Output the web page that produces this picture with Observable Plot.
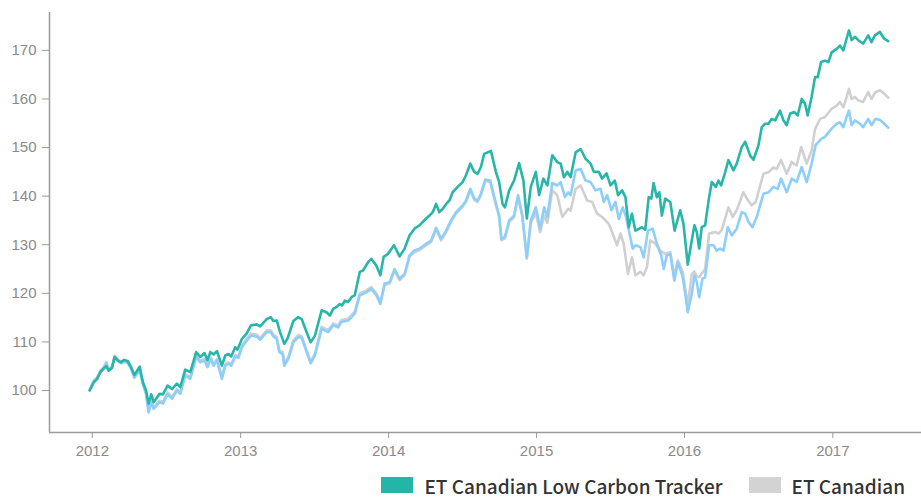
<!DOCTYPE html>
<html><head><meta charset="utf-8">
<script src="https://cdn.jsdelivr.net/npm/d3@7"></script>
<script src="https://cdn.jsdelivr.net/npm/@observablehq/plot@0.6"></script>
<style>
body{margin:0;background:#fff;overflow:hidden}
#chart svg{display:block}
#legend{box-sizing:border-box;display:flex;justify-content:flex-end;align-items:center;height:29px;padding-top:5px;padding-right:16px;line-height:1;font-family:"Noto Sans CJK SC","Noto Sans",sans-serif;font-size:19px;font-weight:500;color:#333}
.item{display:flex;align-items:center;margin-left:26px}
.sw{width:32px;height:16px;margin-right:11px}
</style></head><body><div id="chart"></div><div id="legend"></div>
<script>
// [decimal year, index value]
const lowCarbon = [[2011.982,100],[2012.009,101.7],[2012.032,102.4],[2012.054,103.8],[2012.076,104.5],[2012.094,105],[2012.110,104.1],[2012.133,104.7],[2012.150,106.9],[2012.170,106.2],[2012.193,105.8],[2012.215,106.3],[2012.240,106],[2012.261,104.8],[2012.283,103.2],[2012.319,104.9],[2012.341,101.7],[2012.362,100],[2012.379,97.3],[2012.397,99.2],[2012.413,97.6],[2012.453,99.3],[2012.476,99.2],[2012.507,101],[2012.537,100.3],[2012.570,101.4],[2012.593,100.7],[2012.626,104.3],[2012.660,103.8],[2012.700,107.9],[2012.727,106.9],[2012.756,107.7],[2012.776,106.2],[2012.795,107.9],[2012.817,107.4],[2012.840,108.1],[2012.873,105.1],[2012.896,107.2],[2012.918,107.5],[2012.936,107],[2012.963,108.9],[2012.978,108.4],[2013.008,110.6],[2013.042,111.8],[2013.069,113.4],[2013.109,113.6],[2013.131,113.2],[2013.176,114.7],[2013.203,115.1],[2013.221,114.3],[2013.244,114.4],[2013.266,112],[2013.295,109.6],[2013.318,110.8],[2013.356,114.3],[2013.389,115.1],[2013.412,114.7],[2013.446,112],[2013.473,109.9],[2013.502,111.3],[2013.547,116.5],[2013.580,116.1],[2013.603,115.4],[2013.625,116.8],[2013.648,117.2],[2013.670,117.8],[2013.686,117.5],[2013.704,118.5],[2013.726,118.2],[2013.749,119.2],[2013.771,119.6],[2013.805,124.4],[2013.827,124.7],[2013.861,126.4],[2013.883,127.1],[2013.917,125.7],[2013.944,123.7],[2013.966,127.5],[2013.995,128.1],[2014.036,129.9],[2014.074,127.6],[2014.108,129.2],[2014.141,131.9],[2014.175,133.3],[2014.209,134],[2014.231,134.7],[2014.254,135.4],[2014.276,136],[2014.298,136.7],[2014.321,138.4],[2014.343,136.7],[2014.366,137.4],[2014.389,138.4],[2014.411,139.1],[2014.433,140.8],[2014.467,141.9],[2014.500,142.9],[2014.523,144.3],[2014.552,146.7],[2014.579,145],[2014.601,144.6],[2014.624,146],[2014.646,148.7],[2014.692,149.3],[2014.725,145],[2014.747,142.9],[2014.770,138.4],[2014.786,137.7],[2014.815,141.2],[2014.848,143.2],[2014.882,146.8],[2014.911,143.2],[2014.934,135.4],[2014.961,141.9],[2014.995,145],[2015.017,140.2],[2015.046,143.6],[2015.073,142.2],[2015.106,148.4],[2015.140,147],[2015.163,146.7],[2015.185,143.9],[2015.208,145],[2015.230,143.9],[2015.264,149],[2015.298,149.7],[2015.331,147.7],[2015.365,146.7],[2015.387,145],[2015.421,145],[2015.443,143.6],[2015.473,144.7],[2015.500,142.2],[2015.529,143.2],[2015.551,140.2],[2015.578,141.2],[2015.601,139.8],[2015.623,133.6],[2015.645,136.4],[2015.668,132.9],[2015.713,133.6],[2015.735,133.1],[2015.758,139.8],[2015.776,139.5],[2015.791,142.7],[2015.813,139.8],[2015.830,140.8],[2015.847,136],[2015.870,139.5],[2015.904,138.8],[2015.933,132.9],[2015.971,137.1],[2015.993,134.3],[2016.022,125.9],[2016.045,130.2],[2016.067,134],[2016.083,132.6],[2016.099,129.2],[2016.116,133.6],[2016.139,134],[2016.166,139.8],[2016.184,142.9],[2016.211,141.9],[2016.229,143.2],[2016.247,142.2],[2016.274,144.9],[2016.296,147.4],[2016.330,145.3],[2016.352,146.7],[2016.386,150.1],[2016.409,151.2],[2016.442,148.4],[2016.465,147.5],[2016.498,150.4],[2016.521,154.2],[2016.543,154.9],[2016.566,154.9],[2016.588,155.9],[2016.611,155.6],[2016.644,157.6],[2016.667,155.6],[2016.689,154.6],[2016.712,157],[2016.741,157.3],[2016.763,156.6],[2016.790,160],[2016.813,159],[2016.830,156.6],[2016.857,160.4],[2016.880,164.5],[2016.898,164.5],[2016.921,167.6],[2016.947,167.9],[2016.970,167.6],[2016.992,169.6],[2017.026,170.3],[2017.048,171],[2017.071,170],[2017.093,172.4],[2017.109,174.1],[2017.127,172.1],[2017.149,172.8],[2017.172,172.1],[2017.205,171.4],[2017.239,173.1],[2017.261,171.7],[2017.284,173.1],[2017.318,173.8],[2017.347,172.4],[2017.374,171.9]];

const canadian = [[2011.982,100.3],[2012.009,102],[2012.032,102.7],[2012.054,104.1],[2012.076,104.8],[2012.094,105.9],[2012.110,104.4],[2012.133,105],[2012.150,107.2],[2012.170,106.5],[2012.193,105.9],[2012.215,106.2],[2012.240,105.9],[2012.261,104.8],[2012.283,102.9],[2012.319,104.5],[2012.341,101.5],[2012.362,99.6],[2012.379,95.8],[2012.397,97.9],[2012.413,96.5],[2012.453,97.9],[2012.476,97.6],[2012.507,99.6],[2012.537,98.6],[2012.570,100.3],[2012.593,99.6],[2012.626,103.4],[2012.660,102.7],[2012.700,107.2],[2012.727,106.1],[2012.756,106.5],[2012.776,105.1],[2012.799,106.8],[2012.817,105.4],[2012.840,106.5],[2012.873,102.7],[2012.896,105.4],[2012.918,105.8],[2012.936,105.4],[2012.963,107.3],[2012.985,107],[2013.008,109.3],[2013.042,110.7],[2013.069,111.7],[2013.109,111.5],[2013.131,110.8],[2013.176,112.4],[2013.203,112.4],[2013.221,111.5],[2013.244,111],[2013.261,108.3],[2013.284,107.9],[2013.295,105.5],[2013.322,106.9],[2013.356,110.3],[2013.389,111.4],[2013.412,111.2],[2013.446,108.3],[2013.473,106],[2013.502,107.6],[2013.547,113.1],[2013.591,112.4],[2013.625,113.8],[2013.659,113.4],[2013.681,114.5],[2013.726,114.8],[2013.749,115.5],[2013.771,116.2],[2013.805,120],[2013.850,120.6],[2013.883,121.3],[2013.917,120],[2013.944,118.2],[2013.973,121.7],[2014.007,122],[2014.040,124.7],[2014.074,122.7],[2014.108,123.7],[2014.141,127.5],[2014.175,128.5],[2014.209,128.9],[2014.254,129.9],[2014.288,130.6],[2014.321,133.2],[2014.355,130.9],[2014.389,132.6],[2014.422,134.7],[2014.456,136.4],[2014.500,137.8],[2014.523,138.8],[2014.552,141.2],[2014.579,139.2],[2014.601,138.8],[2014.624,140.2],[2014.653,143.1],[2014.687,142.9],[2014.714,139.5],[2014.747,135.7],[2014.763,130.9],[2014.786,131.3],[2014.815,134.7],[2014.848,135.7],[2014.875,139.9],[2014.904,135.7],[2014.934,127.1],[2014.961,134.5],[2014.995,136.5],[2015.024,132.6],[2015.051,136],[2015.073,134.5],[2015.106,141.2],[2015.140,140.2],[2015.174,135.7],[2015.214,137.4],[2015.230,137],[2015.264,141.5],[2015.298,142.2],[2015.342,139.1],[2015.376,138.8],[2015.409,136.4],[2015.443,135.7],[2015.488,134.3],[2015.510,132.6],[2015.544,129.9],[2015.567,132.3],[2015.589,130.2],[2015.618,124],[2015.645,127.4],[2015.668,123.7],[2015.702,124.4],[2015.724,123.7],[2015.746,125.4],[2015.769,130.9],[2015.803,130.2],[2015.836,128.8],[2015.870,128.1],[2015.904,128.5],[2015.931,123.5],[2015.955,126.8],[2015.987,124.5],[2016.005,121],[2016.022,117.5],[2016.049,124],[2016.067,124.5],[2016.083,123.5],[2016.099,123.3],[2016.116,124],[2016.139,125],[2016.166,132.3],[2016.207,132.6],[2016.229,132.3],[2016.251,133],[2016.296,137.7],[2016.325,135.7],[2016.352,137.1],[2016.397,140.8],[2016.420,139.5],[2016.453,138.1],[2016.480,138.8],[2016.532,144.6],[2016.566,144.9],[2016.599,145.9],[2016.622,145.6],[2016.651,147.4],[2016.689,144.6],[2016.723,147],[2016.756,146.3],[2016.786,150.1],[2016.824,146.7],[2016.857,149.4],[2016.880,153.8],[2016.914,155.9],[2016.947,156.3],[2016.992,158],[2017.026,158.6],[2017.048,159.4],[2017.071,158.3],[2017.093,160.4],[2017.109,162.1],[2017.127,160],[2017.149,160.4],[2017.172,159.7],[2017.205,159.4],[2017.239,161.4],[2017.261,160],[2017.288,161.4],[2017.318,161.8],[2017.347,161.1],[2017.374,160.3]];

const thirdSeries = [[2011.982,100],[2012.009,101.7],[2012.032,102.4],[2012.054,103.8],[2012.076,104.5],[2012.094,105.6],[2012.110,104.1],[2012.133,104.7],[2012.150,106.9],[2012.170,106.2],[2012.193,105.6],[2012.215,105.9],[2012.240,105.6],[2012.261,104.5],[2012.283,102.6],[2012.319,104.2],[2012.341,101.2],[2012.362,99.3],[2012.379,95.5],[2012.397,97.6],[2012.413,96.2],[2012.453,97.6],[2012.476,97.3],[2012.507,99.3],[2012.537,98.3],[2012.570,100],[2012.593,99.3],[2012.626,103.1],[2012.660,102.4],[2012.700,106.9],[2012.727,105.8],[2012.756,106.2],[2012.776,104.8],[2012.799,106.5],[2012.817,105.1],[2012.840,106.2],[2012.873,102.4],[2012.896,105.1],[2012.918,105.5],[2012.936,105.1],[2012.963,107],[2012.985,106.7],[2013.008,108.9],[2013.042,110.3],[2013.069,111.3],[2013.109,111.1],[2013.131,110.4],[2013.176,112],[2013.203,112],[2013.221,111.1],[2013.244,110.6],[2013.261,107.9],[2013.284,107.5],[2013.295,105.1],[2013.322,106.5],[2013.356,109.9],[2013.389,111],[2013.412,110.8],[2013.446,107.9],[2013.473,105.6],[2013.502,107.2],[2013.547,112.7],[2013.591,112],[2013.625,113.4],[2013.659,113],[2013.681,114.1],[2013.726,114.4],[2013.749,115.1],[2013.771,115.8],[2013.805,119.6],[2013.850,120.2],[2013.883,120.9],[2013.917,119.6],[2013.944,117.8],[2013.973,122],[2014.007,122.3],[2014.040,125],[2014.074,123],[2014.108,124],[2014.141,127.8],[2014.175,128.8],[2014.209,129.2],[2014.254,130.2],[2014.288,130.9],[2014.321,133.5],[2014.355,131.2],[2014.389,132.9],[2014.422,135],[2014.456,136.7],[2014.500,138.1],[2014.523,139.1],[2014.552,141.5],[2014.579,139.5],[2014.601,139.1],[2014.624,140.5],[2014.653,143.4],[2014.687,143.2],[2014.714,139.8],[2014.747,136],[2014.763,131.2],[2014.786,131.6],[2014.815,135],[2014.848,136],[2014.875,140.2],[2014.904,136],[2014.934,127.4],[2014.961,135],[2014.995,137.7],[2015.024,133.3],[2015.051,137.7],[2015.073,135.7],[2015.106,142.7],[2015.140,142.2],[2015.163,142.9],[2015.192,139.8],[2015.214,140.8],[2015.230,140.2],[2015.264,145.3],[2015.298,145.6],[2015.331,143.2],[2015.365,142.9],[2015.399,141.2],[2015.432,141.5],[2015.455,138.8],[2015.477,140.2],[2015.506,137.1],[2015.533,138.8],[2015.556,135.3],[2015.582,137.7],[2015.605,135.7],[2015.628,132.3],[2015.650,129.2],[2015.668,129.9],[2015.702,129.5],[2015.724,127.4],[2015.753,132.9],[2015.785,133.3],[2015.813,130.2],[2015.843,127.8],[2015.859,125],[2015.881,127.8],[2015.904,128.1],[2015.931,122.6],[2015.955,126.4],[2015.987,123.5],[2016.005,119.9],[2016.022,116.1],[2016.049,119.9],[2016.067,123.7],[2016.083,122.3],[2016.099,119.2],[2016.121,123],[2016.139,123.3],[2016.166,129.9],[2016.195,129.9],[2016.217,128.8],[2016.240,129.2],[2016.263,128.8],[2016.292,133.6],[2016.319,131.9],[2016.352,133.3],[2016.386,136.7],[2016.409,136.4],[2016.431,134.7],[2016.458,133.6],[2016.487,135.7],[2016.532,140.5],[2016.566,140.8],[2016.599,141.9],[2016.628,141.5],[2016.651,143.6],[2016.689,140.8],[2016.723,143.6],[2016.756,142.9],[2016.790,146],[2016.824,142.9],[2016.857,146.7],[2016.884,150.5],[2016.921,151.8],[2016.947,152.2],[2016.992,153.9],[2017.026,154.9],[2017.048,155.2],[2017.071,154.2],[2017.093,156.3],[2017.109,157.6],[2017.127,154.6],[2017.149,155.6],[2017.183,154.9],[2017.205,154.2],[2017.239,155.9],[2017.261,154.6],[2017.288,155.9],[2017.318,155.7],[2017.347,154.9],[2017.374,154.1]];

const yTicks = [100, 110, 120, 130, 140, 150, 160, 170];
const xTickYears = [2012, 2013, 2014, 2015, 2016, 2017];
const legendNames = ["ET Canadian Low Carbon Tracker", "ET Canadian"];
const legendColors = ["#22b5a8", "#d3d3d3"];

function toDate(y) {
  const Y = Math.floor(y);
  const s = Date.UTC(Y, 0, 1), e = Date.UTC(Y + 1, 0, 1);
  return new Date(s + (y - Y) * (e - s));
}
const rows = (arr) => arr.map(([t, v]) => ({date: toDate(t), value: v}));

const xMin = toDate(2011.7104), xMax = toDate(2017.5993);
const yMin = 91.35, yMax = 177.8;

const chart = Plot.plot({
  width: 921,
  height: 468,
  marginTop: 12,
  marginBottom: 36,
  marginLeft: 49,
  marginRight: 0,
  style: {fontFamily: "'Liberation Sans', Arial, sans-serif", fontSize: "15px", background: "#fff"},
  x: {type: "utc", domain: [xMin, xMax]},
  y: {domain: [yMin, yMax]},
  marks: [
    Plot.ruleX([xMin], {stroke: "#9a9a9a", strokeWidth: 1.5}),
    Plot.ruleY([yMin], {stroke: "#9a9a9a", strokeWidth: 1.5}),
    Plot.axisY({ticks: yTicks, tickSize: 7, tickPadding: 6, stroke: "#9a9a9a", color: "#8a8a8a", fontSize: 15, label: null}),
    Plot.axisX({ticks: xTickYears.map(y => new Date(Date.UTC(y, 0, 1))), tickFormat: d => String(d.getUTCFullYear()), tickSize: 6, tickPadding: 7, stroke: "#9a9a9a", color: "#8a8a8a", fontSize: 15, label: null}),
    Plot.line(rows(canadian), {x: "date", y: "value", stroke: "#d0d0d0", strokeWidth: 2.6}),
    Plot.line(rows(thirdSeries), {x: "date", y: "value", stroke: "#8dcffa", strokeWidth: 2.6}),
    Plot.line(rows(lowCarbon), {x: "date", y: "value", stroke: "#27b6a7", strokeWidth: 2.6})
  ]
});
document.getElementById("chart").appendChild(chart);

const legend = document.getElementById("legend");
legendNames.forEach((n, i) => {
  const item = document.createElement("div");
  item.className = "item";
  const sw = document.createElement("span");
  sw.className = "sw";
  sw.style.background = legendColors[i];
  const tx = document.createElement("span");
  tx.textContent = n;
  item.appendChild(sw);
  item.appendChild(tx);
  legend.appendChild(item);
});
</script>
</body></html>
